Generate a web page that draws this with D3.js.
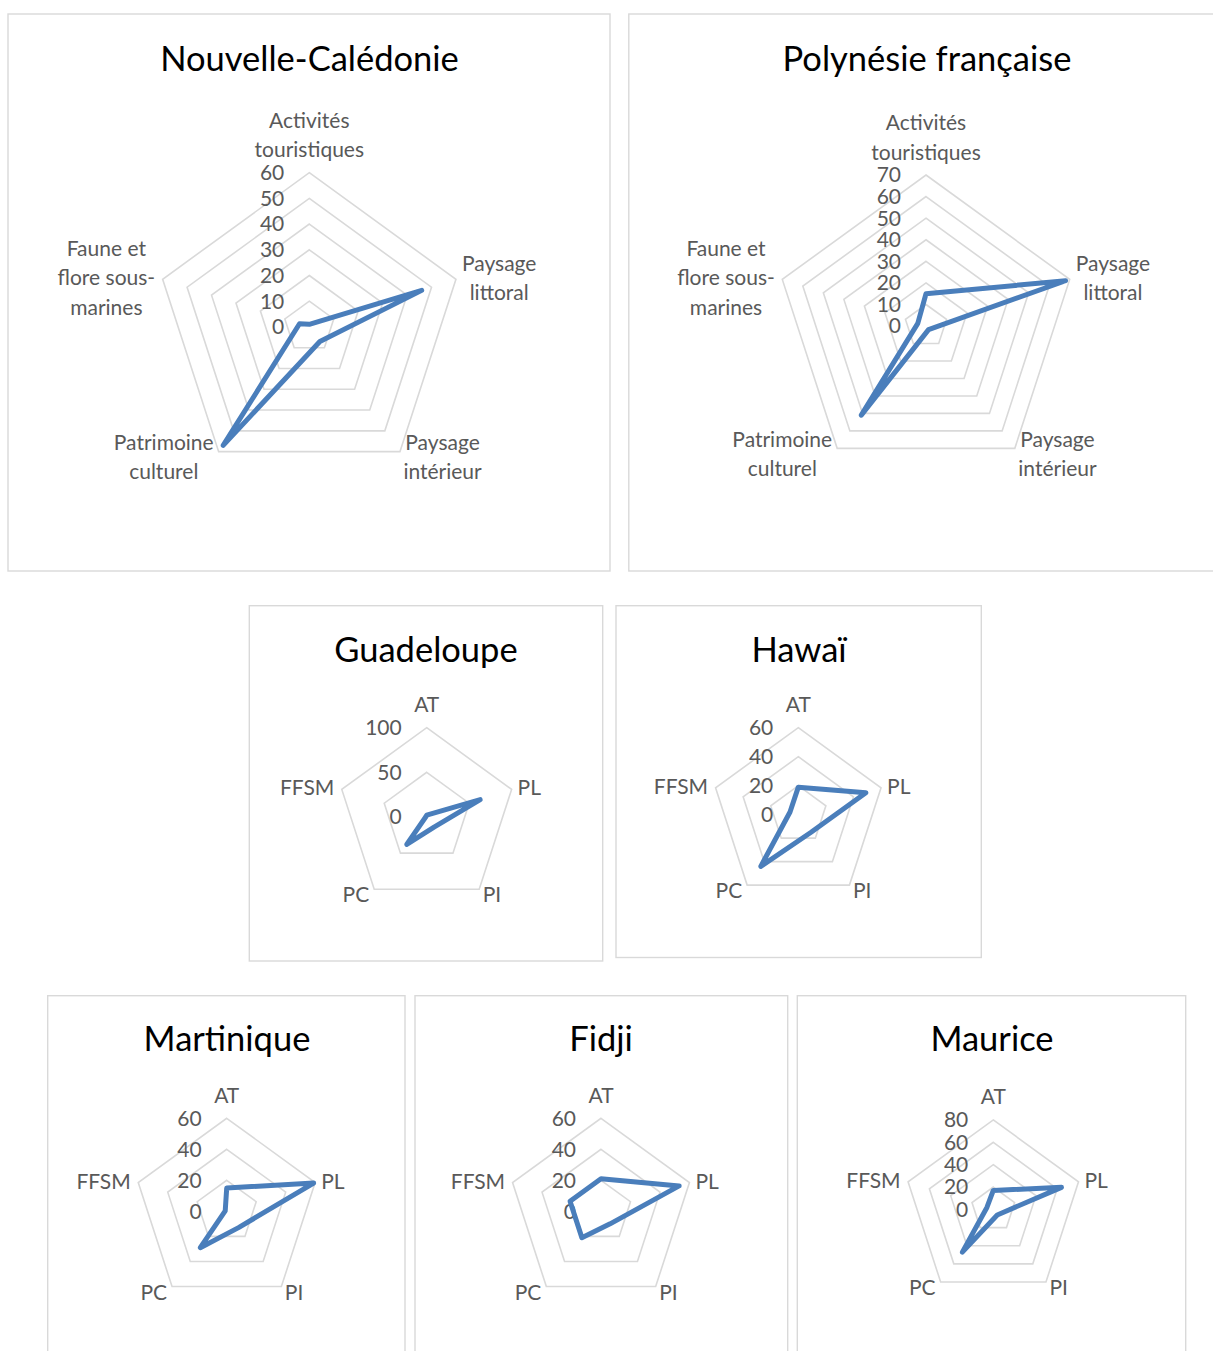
<!DOCTYPE html>
<html><head><meta charset="utf-8">
<script src="https://cdn.jsdelivr.net/npm/d3@7"></script>
<style>body{margin:0;background:#fff;overflow:hidden}</style>
</head><body>
<svg id="c" width="1213" height="1351"></svg>
<script>
// ---------- data ----------
const categoriesLong = [["Activités","touristiques"],["Paysage","littoral"],["Paysage","intérieur"],["Patrimoine","culturel"],["Faune et","flore sous-","marines"]];
const categoriesShort = ["AT","PL","PI","PC","FFSM"];
const titles = ["Nouvelle-Calédonie","Polynésie française","Guadeloupe","Hawaï","Martinique","Fidji","Maurice"];

const nouvelleCaledonie = [1, 46, 7, 57, 4];
const polynesieFrancaise = [15, 68, 2, 51, 4];
const guadeloupe = [2, 63, 14, 38, 1];
const hawai = [19, 49, 15, 44, 6];
const martinique = [15, 59, 13, 29, 1];
const fidji = [21, 53, 10, 21, 21];
const maurice = [17, 64, 6, 47, 6];

const ticksNC = [0,10,20,30,40,50,60];
const ticksPF = [0,10,20,30,40,50,60,70];
const ticksGuadeloupe = [0,50,100];
const ticksHawai = [0,20,40,60];
const ticksMartinique = [0,20,40,60];
const ticksFidji = [0,20,40,60];
const ticksMaurice = [0,20,40,60,80];

// ---------- layout ----------
const panels = [
  {title:titles[0], values:nouvelleCaledonie, ticks:ticksNC, long:true,
   frame:[8,14,610,571], cx:309.3, cy:326.9, R:154.2, tx:309.5, ty:71},
  {title:titles[1], values:polynesieFrancaise, ticks:ticksPF, long:true,
   frame:[628.8,14,1240,571], cx:926, cy:326.1, R:151.1, tx:927, ty:71},
  {title:titles[2], values:guadeloupe, ticks:ticksGuadeloupe, long:false,
   frame:[249.3,605.7,602.7,961], cx:426.7, cy:817, R:89.3, tx:426, ty:661.7},
  {title:titles[3], values:hawai, ticks:ticksHawai, long:false,
   frame:[616,605.7,981.3,957.5], cx:798.3, cy:814.7, R:87, tx:799, ty:661.7},
  {title:titles[4], values:martinique, ticks:ticksMartinique, long:false,
   frame:[47.7,995.7,405,1370], cx:226.7, cy:1211.3, R:93, tx:227, ty:1050.7},
  {title:titles[5], values:fidji, ticks:ticksFidji, long:false,
   frame:[415,995.7,787.7,1370], cx:601, cy:1211.3, R:93, tx:601, ty:1050.7},
  {title:titles[6], values:maurice, ticks:ticksMaurice, long:false,
   frame:[797.3,995.7,1185.7,1370], cx:993.3, cy:1209.5, R:89.6, tx:992, ty:1050.7}
];

const FONT = "Lato, 'Open Sans', sans-serif";
const LABEL_SIZE = 21;
const TITLE_SIZE = 34.5;
const LINE_H = 29.4;
const GRID = "#d9d9d9";
const TXT = "#595959";
const BLUE = "#4a7ebb";

const svg = d3.select("#c");
const N = categoriesShort.length;
const angleOf = i => i * 2 * Math.PI / N;

panels.forEach(p => {
  const g = svg.append("g");
  const [x0,y0,x1,y1] = p.frame;
  g.append("rect").attr("x",x0).attr("y",y0).attr("width",x1-x0).attr("height",y1-y0)
    .attr("fill","#fff").attr("stroke",GRID).attr("stroke-width",1.4);

  g.append("text").attr("x",p.tx).attr("y",p.ty).attr("text-anchor","middle")
    .attr("font-family",FONT).attr("font-size",TITLE_SIZE).attr("fill","#000").text(p.title);

  const r = d3.scaleLinear().domain([0, d3.max(p.ticks)]).range([0, p.R]);
  const radial = d3.lineRadial().angle((d,i)=>angleOf(i)).radius(d=>r(d)).curve(d3.curveLinearClosed);
  const c = g.append("g").attr("transform",`translate(${p.cx},${p.cy})`);

  p.ticks.filter(t=>t>0).forEach(t=>{
    c.append("path").attr("d", radial(d3.range(N).map(()=>t)))
      .attr("fill","none").attr("stroke",GRID).attr("stroke-width",1.6);
  });

  p.ticks.forEach(t=>{
    c.append("text").attr("x",-25).attr("y",-r(t)).attr("dy","0.35em")
      .attr("text-anchor","end").attr("font-family",FONT).attr("font-size",LABEL_SIZE)
      .attr("fill",TXT).text(t);
  });

  c.append("path").attr("d", radial(p.values))
    .attr("fill","none").attr("stroke",BLUE).attr("stroke-width",5)
    .attr("stroke-linejoin","round");

  // category labels
  for (let i=0;i<N;i++){
    const a = angleOf(i);
    const vx = p.R*Math.sin(a), vy = -p.R*Math.cos(a);
    const lines = p.long ? categoriesLong[i] : [categoriesShort[i]];
    const n = lines.length;
    const tg = c.append("g");
    const ts = lines.map(l => tg.append("text").attr("font-family",FONT).attr("font-size",LABEL_SIZE)
      .attr("fill",TXT).attr("text-anchor","middle").text(l));
    const w = d3.max(ts, t=>t.node().getComputedTextLength());
    let bx, midBase;
    if (i===0){ bx = vx; midBase = vy - 15.5 - (n-1)/2*LINE_H; }
    else if (i===1){ bx = vx + 6 + w/2; midBase = vy + 6; }
    else if (i===2){ bx = vx + 3.5 + w/2; midBase = vy + 13; }
    else if (i===3){ bx = vx - 5 - w/2; midBase = vy + 13; }
    else { bx = vx - 7.5 - w/2; midBase = vy + 6; }
    ts.forEach((t,k)=>t.attr("x",bx).attr("y", midBase + (k-(n-1)/2)*LINE_H));
  }
});
</script>
</body></html>
